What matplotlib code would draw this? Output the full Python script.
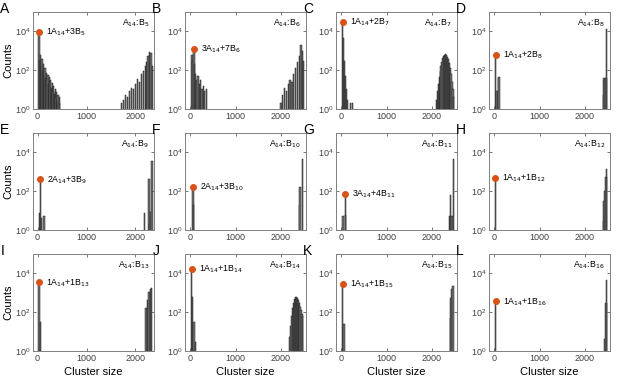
import numpy as np
import matplotlib.pyplot as plt

# --- Daten ---
letters = ['A', 'B', 'C', 'D', 'E', 'F', 'G', 'H', 'I', 'J', 'K', 'L']
b_index = ['5', '6', '7', '8', '9', '10', '11', '12', '13', '14', '15', '16']
peak_labels = ['1A$_{14}$+3B$_{5}$', '3A$_{14}$+7B$_{6}$', '1A$_{14}$+2B$_{7}$', '1A$_{14}$+2B$_{8}$',
               '2A$_{14}$+3B$_{9}$', '2A$_{14}$+3B$_{10}$', '3A$_{14}$+4B$_{11}$', '1A$_{14}$+1B$_{12}$',
               '1A$_{14}$+1B$_{13}$', '1A$_{14}$+1B$_{14}$', '1A$_{14}$+1B$_{15}$', '1A$_{14}$+1B$_{16}$']
peak_x = [29, 84, 28, 30, 55, 58, 86, 26, 27, 28, 29, 30]
peak_n = [9000, 1150, 27000, 590, 380, 160, 68, 480, 3200, 15000, 2600, 340]

A_x = [29, 45, 60, 75, 90, 105, 120, 135, 150, 165, 180, 195, 210, 225, 240, 255, 270, 285, 300,
       315, 330, 345, 360, 375, 390, 405, 420, 435, 450,
       1720, 1760, 1800, 1840, 1880, 1920, 1960, 2000, 2040, 2080, 2120, 2160, 2200, 2230,
       2260, 2290, 2320, 2350]
A_n = [9000, 300, 600, 150, 350, 90, 200, 60, 120, 40, 70, 30, 55, 20, 45, 25, 30, 12, 22, 8,
       15, 6, 10, 4, 7, 3, 5, 2, 4,
       2, 3, 5, 4, 8, 12, 10, 20, 35, 25, 60, 90, 150, 250,
       500, 850, 700, 150]
B_x = [40, 60, 84, 100, 120, 150, 170, 200, 230, 260, 290, 320, 350,
       2000, 2040, 2080, 2120, 2160, 2200, 2240, 2280, 2320, 2360, 2400, 2440, 2470, 2500]
B_n = [600, 300, 1150, 200, 60, 30, 50, 20, 30, 10, 15, 8, 10,
       2, 5, 12, 8, 20, 30, 25, 60, 120, 250, 500, 1800, 900, 300]
C_x = [28, 50, 70, 90, 110, 130, 200, 250,
       2100, 2120, 2140, 2160, 2180, 2200, 2220, 2240, 2260, 2280, 2300, 2320, 2340, 2360,
       2380, 2400, 2420, 2440, 2460, 2480]
C_n = [27000, 4000, 300, 50, 10, 3, 2, 2,
       3, 8, 20, 45, 90, 160, 260, 380, 500, 600, 650, 580, 480, 350, 220, 120, 60, 25, 10, 4]
D_x = [30, 60, 90, 105, 2400, 2420, 2440, 2460, 2480]
D_n = [590, 8, 40, 45, 5, 40, 30, 40, 12000]
E_x = [40, 55, 75, 130, 2190, 2275, 2300, 2320, 2340]
E_n = [7, 380, 4, 5, 7, 400, 2, 8, 3500]
F_x = [58, 75, 2400, 2420, 2480]
F_n = [160, 20, 20, 150, 4000]
G_x = [40, 86, 100, 2380, 2400, 2440, 2470]
G_n = [5, 68, 6, 5, 60, 5, 4000]
H_x = [26, 2400, 2420, 2440, 2460, 2480]
H_n = [480, 3, 30, 100, 500, 1300]
I_x = [27, 55, 2220, 2250, 2280, 2310, 2335]
I_n = [3200, 30, 150, 400, 1000, 1500, 1600]
J_x = [28, 56, 84, 110,
       2200, 2220, 2240, 2260, 2280, 2300, 2320, 2340, 2360, 2380, 2400, 2420, 2440, 2460, 2480]
J_n = [15000, 600, 30, 3,
       5, 20, 60, 150, 300, 450, 550, 560, 500, 400, 280, 180, 120, 80, 60]
K_x = [29, 58, 2400, 2420, 2440, 2460]
K_n = [2600, 25, 50, 500, 1500, 2000]
L_x = [30, 2440, 2460, 2480]
L_n = [340, 4, 300, 4000]

all_x = [A_x, B_x, C_x, D_x, E_x, F_x, G_x, H_x, I_x, J_x, K_x, L_x]
all_n = [A_n, B_n, C_n, D_n, E_n, F_n, G_n, H_n, I_n, J_n, K_n, L_n]

# --- Layout ---
fig = plt.figure(figsize=(6.17, 3.77), dpi=100)
lefts = [33, 185, 336, 489]
tops = [12, 133, 254]
w_px, h_px = 121, 97
W, H = 617, 377

plt.rcParams['font.family'] = ['Liberation Sans', 'DejaVu Sans']
grau = '#747474'
orange = '#D95319'

for i in range(12):
    r, c = divmod(i, 4)
    ax = fig.add_axes([lefts[c] / W, 1 - (tops[r] + h_px) / H, w_px / W, h_px / H])
    ax.bar(all_x[i], all_n[i], width=28, color=grau, edgecolor='#1a1a1a', linewidth=0.35)
    ax.set_yscale('log')
    ax.set_ylim(1, 9e4)
    # erste Spalte hat im Original eine andere x-Skalierung
    if c == 0:
        ax.set_xlim(-94, 2380)
    else:
        ax.set_xlim(-117, 2550)
    ax.set_yticks([1, 1e2, 1e4])
    ax.set_xticks([0, 1000, 2000])
    ax.minorticks_off()
    ax.tick_params(direction='in', length=2, width=0.5, labelsize=6.5, colors='#404040',
                   top=True, right=True, pad=2)
    for s in ax.spines.values():
        s.set_color('#808080')
        s.set_linewidth(0.7)

    ax.plot(peak_x[i], peak_n[i], 'o', color=orange, markersize=4, zorder=5)
    ax.annotate(peak_labels[i], (peak_x[i], peak_n[i]), xytext=(5, 0), textcoords='offset points',
                fontsize=6.3, va='center', ha='left')
    ax.text(0.96, 0.89, 'A$_{14}$:B$_{' + b_index[i] + '}$', transform=ax.transAxes,
            fontsize=6.3, ha='right', va='center')
    ax.text(-0.27, 1.03, letters[i], transform=ax.transAxes, fontsize=10, ha='left', va='center')

    if c == 0:
        ax.set_ylabel('Counts', fontsize=8, labelpad=1)
    if r == 2:
        ax.set_xlabel('Cluster size', fontsize=8, labelpad=3)

plt.savefig('out.png', dpi=100)
